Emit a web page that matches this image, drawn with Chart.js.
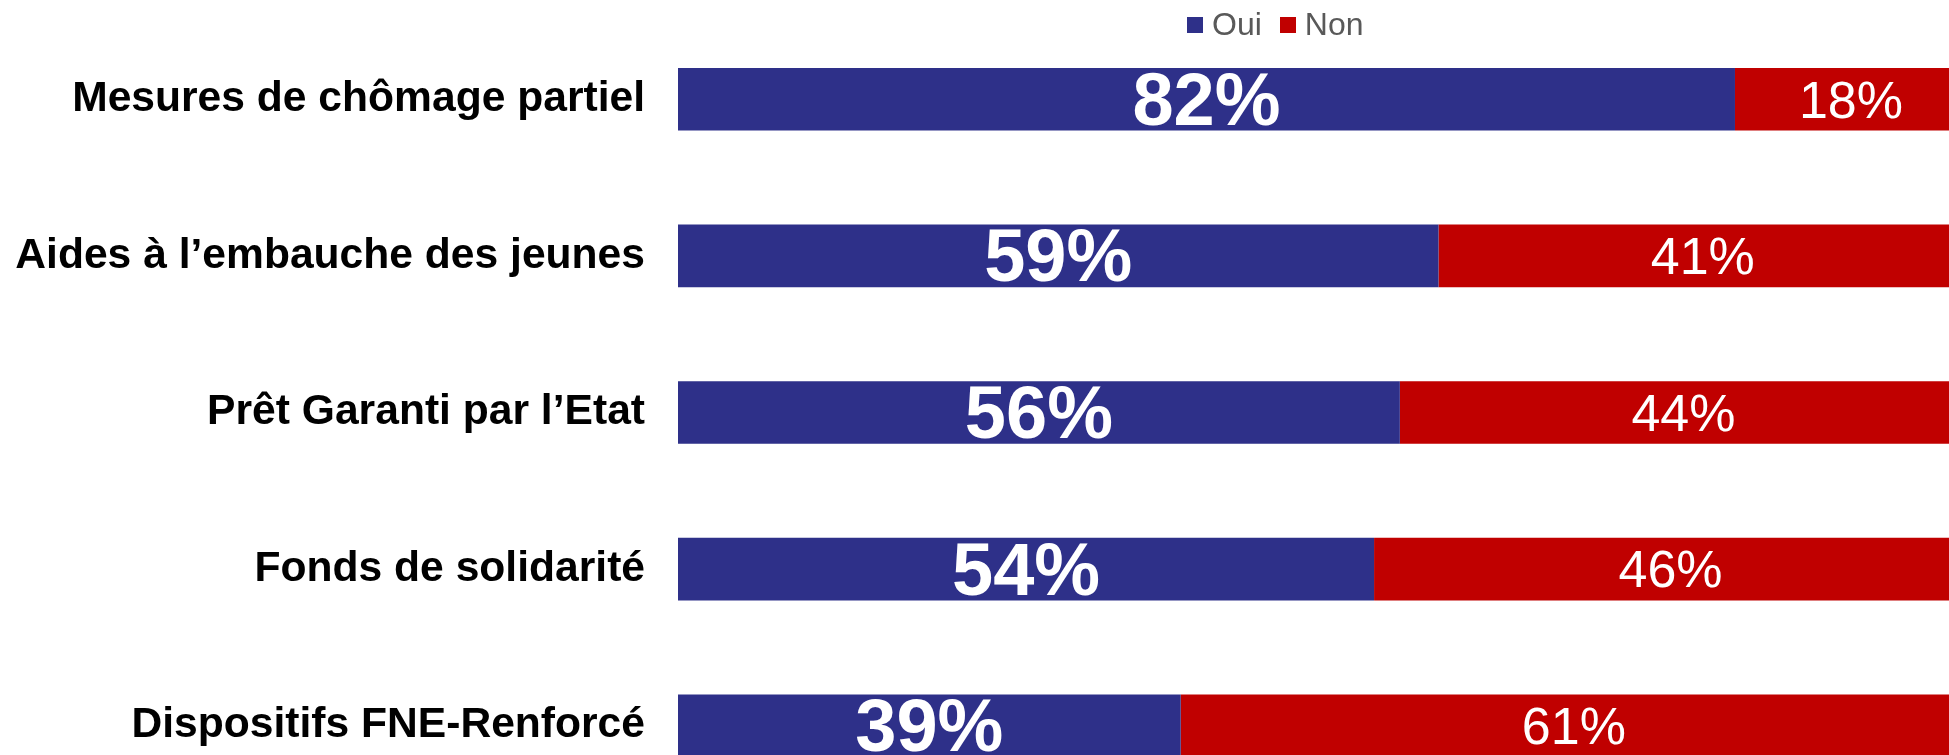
<!DOCTYPE html>
<html lang="fr">
<head>
  <meta charset="UTF-8">
  <title>Dispositifs d'aide</title>
  <script src="https://cdn.jsdelivr.net/npm/chart.js"></script>
  <style>
    html, body {
      margin: 0;
      padding: 0;
      background: #ffffff;
      overflow: hidden;
      font-family: "Liberation Sans", Arial, sans-serif;
    }
    .wrap {
      position: absolute;
      left: 0;
      top: 0;
    }
    #legend {
      position: absolute;
      left: 1187px;
      top: 6px;
      display: flex;
      align-items: center;
      font-size: 32px;
      color: #595959;
      white-space: nowrap;
    }
    #legend .item {
      display: flex;
      align-items: center;
      margin-right: 18px;
    }
    #legend .box {
      width: 16px;
      height: 16px;
      margin-right: 9px;
    }
  </style>
</head>
<body>

<div class="wrap">
  <canvas id="aidesChart" width="1967" height="804"></canvas>
</div>
<div id="legend"></div>

<script>
  const categories = [
    'Mesures de chômage partiel',
    'Aides à l\u2019embauche des jeunes',
    'Prêt Garanti par l\u2019Etat',
    'Fonds de solidarité',
    'Dispositifs FNE-Renforcé'
  ];
  const seriesNames = ['Oui', 'Non'];
  const ouiValues = [82, 59, 56, 54, 39];
  const nonValues = [18, 41, 44, 46, 61];
  const seriesColors = ['#2E3089', '#C00000'];

  const fontFamily = '"Liberation Sans", Arial, sans-serif';

  // legend above the bars
  const legendEl = document.getElementById('legend');
  seriesNames.forEach((name, i) => {
    legendEl.innerHTML += `<span class="item"><span class="box" style="background:${seriesColors[i]}"></span>${name}</span>`;
  });

  // percentage written in the middle of each segment
  const segmentLabels = {
    id: 'segmentLabels',
    afterDatasetsDraw(chart) {
      const ctx = chart.ctx;
      const xScale = chart.scales.x;
      ctx.save();
      ctx.fillStyle = '#ffffff';
      ctx.textAlign = 'center';
      ctx.textBaseline = 'middle';
      chart.data.datasets.forEach((ds, di) => {
        const meta = chart.getDatasetMeta(di);
        ctx.font = di === 0 ? `bold 74px ${fontFamily}` : `52px ${fontFamily}`;
        const dy = di === 0 ? 5 : 4;
        meta.data.forEach((bar, i) => {
          let start = 0;
          for (let k = 0; k < di; k++) start += chart.data.datasets[k].data[i];
          const v = ds.data[i];
          const x = xScale.getPixelForValue(start + v / 2);
          ctx.fillText(v + '%', x, bar.y + dy);
        });
      });
      ctx.restore();
    }
  };

  new Chart(document.getElementById('aidesChart'), {
    type: 'bar',
    data: {
      labels: categories,
      datasets: [
        { label: seriesNames[0], data: ouiValues, backgroundColor: seriesColors[0] },
        { label: seriesNames[1], data: nonValues, backgroundColor: seriesColors[1] }
      ]
    },
    options: {
      indexAxis: 'y',
      responsive: false,
      animation: false,
      devicePixelRatio: 1,
      layout: { padding: { top: 21, right: 0, bottom: 0, left: 0 } },
      datasets: {
        bar: { categoryPercentage: 1, barPercentage: 0.4 }
      },
      plugins: {
        legend: { display: false },
        tooltip: { enabled: false }
      },
      scales: {
        x: {
          stacked: true,
          min: 0,
          max: 100,
          display: false
        },
        y: {
          stacked: true,
          border: { display: false },
          grid: { display: false, drawTicks: false },
          ticks: {
            color: '#000000',
            padding: 33,
            font: { family: fontFamily, size: 42.6, weight: 'bold' }
          },
          afterFit(scale) {
            scale.width = 678;
            scale.paddingTop = 0;
            scale.paddingBottom = 0;
          }
        }
      }
    },
    plugins: [segmentLabels]
  });
</script>

</body>
</html>
